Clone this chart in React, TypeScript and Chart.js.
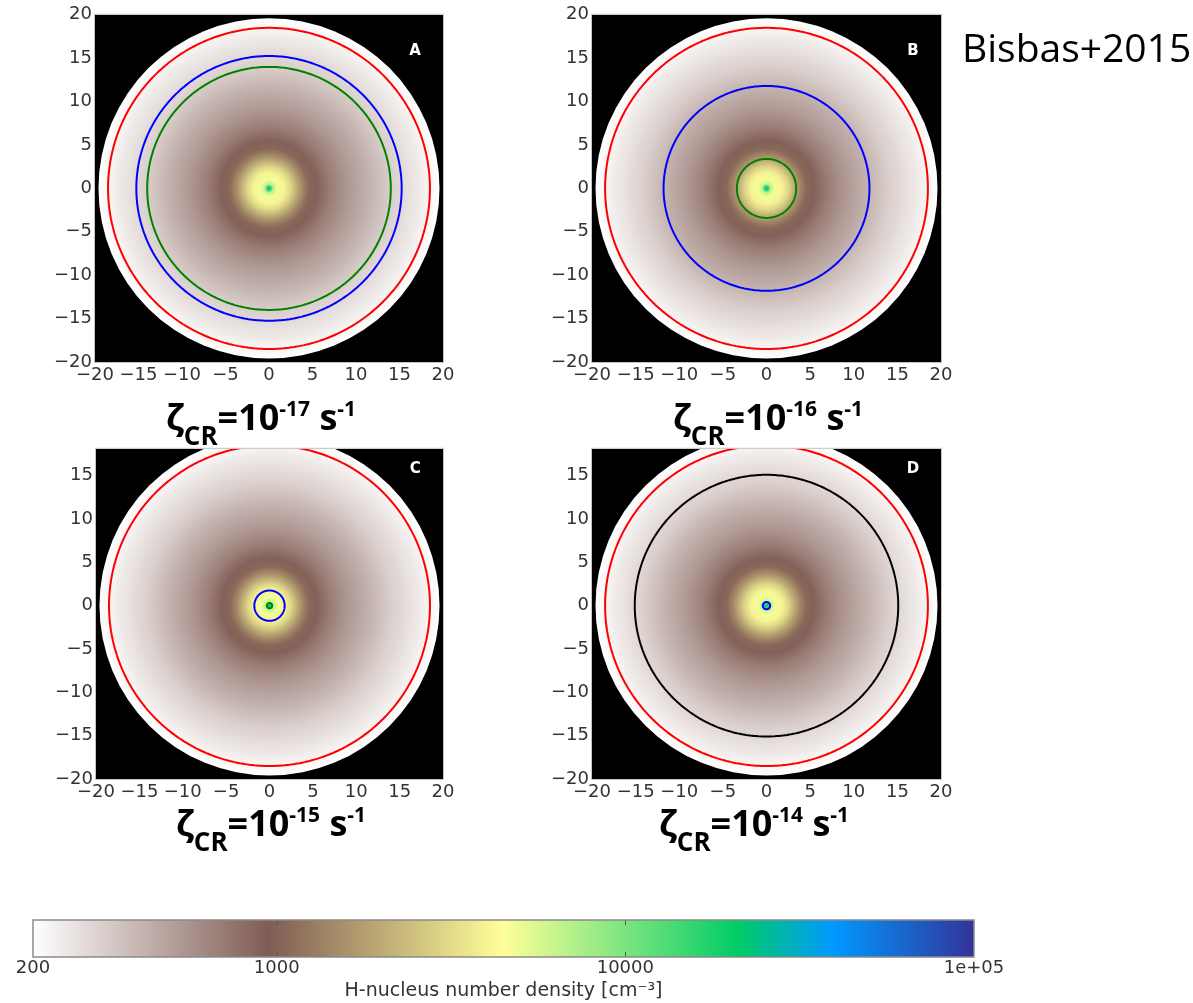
import React, { useEffect, useRef } from 'react';
import { Chart, registerables } from 'chart.js';
Chart.register(...registerables);

// ---------- data ----------
const xTicks = [-20, -15, -10, -5, 0, 5, 10, 15, 20];
const yTicksFull = [-20, -15, -10, -5, 0, 5, 10, 15, 20];
const yTicksCropped = [-20, -15, -10, -5, 0, 5, 10, 15];

// radial density profile of the cloud (pc, cm^-3)
const profileRadius = [0, 0.25, 0.5, 1.0, 1.8, 2.5, 3.2, 3.9, 4.6, 5.5, 7.0, 9.0, 11.5, 14, 17, 19.6];
const profileDensity = [30000, 15000, 6500, 4800, 4000, 3000, 2000, 1400, 1050, 900, 700, 540, 420, 320, 250, 200];
const cloudRadius = 19.6;

const panelLabels = ['A', 'B', 'C', 'D'];
const zetaExponents = ['-17', '-16', '-15', '-14'];
const panelYMax = [20, 20, 18.1, 18.1];
const redRadius = [18.5, 18.5, 18.5, 18.5];
const blueRadius = [15.25, 11.8, 1.75, 0.42];
const greenRadius = [14.0, 3.4, 0.3, null];
const blackRadius = [null, null, null, 15.1];

// colorbar
const densityMin = 200;
const densityMax = 100000;
const colorbarTicks = [200, 1000, 10000, 100000];
const colorbarTickLabels = ['200', '1000', '10000', '1e+05'];
const colorbarInnerTicks = [1000, 10000];
// terrain_r colormap
const cmapPos = [0, 0.25, 0.5, 0.75, 0.85, 1];
const cmapRGB = [
  [255, 255, 255],
  [128, 92, 84],
  [255, 255, 153],
  [0, 204, 102],
  [0, 153, 255],
  [51, 51, 153],
];

// ---------- layout ----------
const panelBoxes = [
  { left: 95, top: 13, right: 443, bottom: 362 },
  { left: 592, top: 13, right: 941, bottom: 362 },
  { left: 96, top: 447, right: 443, bottom: 779 },
  { left: 592, top: 447, right: 941, bottom: 779 },
];
const titlePos = [
  { cx: 261, base: 431 },
  { cx: 768, base: 431 },
  { cx: 271, base: 837 },
  { cx: 754, base: 837 },
];
const Y_AXIS_W = 60;
const PAD_TOP = 12;
const PAD_RIGHT = 22;
const X_AXIS_H = 30;

const tickFont = { family: 'DejaVu Sans', size: 18 };
const tickColor = '#333';

function lerp(a: number, b: number, t: number) {
  return a + (b - a) * t;
}
function cmapColor(t: number) {
  t = Math.max(0, Math.min(1, t));
  let i = 0;
  while (i < cmapPos.length - 2 && t > cmapPos[i + 1]) i++;
  const f = (t - cmapPos[i]) / (cmapPos[i + 1] - cmapPos[i]);
  const c = cmapRGB[i].map((v, k) => Math.round(lerp(v, cmapRGB[i + 1][k], f)));
  return `rgb(${c[0]},${c[1]},${c[2]})`;
}
function densityT(n: number) {
  return (Math.log10(n) - Math.log10(densityMin)) / (Math.log10(densityMax) - Math.log10(densityMin));
}
function fmtTick(v: number) {
  return v < 0 ? '\u2212' + Math.abs(v) : String(v);
}
function circle(r: number) {
  const pts: { x: number; y: number }[] = [];
  for (let i = 0; i <= 200; i++) {
    const a = (i / 200) * 2 * Math.PI;
    pts.push({ x: r * Math.cos(a), y: r * Math.sin(a) });
  }
  return pts;
}

const densityPlugin = {
  id: 'densityField',
  beforeDatasetsDraw(chart: any) {
    const { ctx, chartArea: a, scales } = chart;
    const x = scales.x, y = scales.y;
    ctx.save();
    ctx.beginPath();
    ctx.rect(a.left, a.top, a.right - a.left, a.bottom - a.top);
    ctx.clip();
    ctx.fillStyle = '#000';
    ctx.fillRect(a.left, a.top, a.right - a.left, a.bottom - a.top);
    const cx = x.getPixelForValue(0);
    const cy = y.getPixelForValue(0);
    const sx = x.getPixelForValue(1) - cx;
    const sy = cy - y.getPixelForValue(1);
    ctx.translate(cx, cy);
    ctx.scale(sx, sy);
    const g = ctx.createRadialGradient(0, 0, 0, 0, 0, cloudRadius);
    profileRadius.forEach((r, i) => g.addColorStop(r / cloudRadius, cmapColor(densityT(profileDensity[i]))));
    ctx.fillStyle = g;
    ctx.beginPath();
    ctx.arc(0, 0, cloudRadius, 0, Math.PI * 2);
    ctx.fill();
    ctx.restore();
  },
  afterDraw(chart: any) {
    const { ctx, chartArea: a, scales } = chart;
    const label = chart.options.plugins.densityField.label;
    ctx.save();
    ctx.fillStyle = '#fff';
    ctx.font = 'bold 15px "DejaVu Sans"';
    ctx.textAlign = 'center';
    ctx.textBaseline = 'middle';
    ctx.fillText(label, scales.x.getPixelForValue(16.8), scales.y.getPixelForValue(15.8));
    ctx.strokeStyle = '#c4c4c4';
    ctx.lineWidth = 1;
    ctx.strokeRect(a.left - 0.5, a.top - 0.5, a.right - a.left + 1, a.bottom - a.top + 1);
    ctx.restore();
  },
};

function Panel({ idx }: { idx: number }) {
  const ref = useRef<HTMLCanvasElement>(null);
  const box = panelBoxes[idx];
  const w = box.right - box.left + Y_AXIS_W + PAD_RIGHT;
  const h = box.bottom - box.top + PAD_TOP + X_AXIS_H;
  useEffect(() => {
    const contours: any[] = [];
    const add = (r: number | null, color: string) => {
      if (r == null) return;
      contours.push({
        data: circle(r),
        showLine: true,
        borderColor: color,
        borderWidth: 2,
        pointRadius: 0,
        tension: 0.05,
        fill: false,
      });
    };
    add(redRadius[idx], '#ff0000');
    add(blackRadius[idx], '#000000');
    add(blueRadius[idx], '#0000ff');
    add(greenRadius[idx], '#008000');
    const yTicks = panelYMax[idx] >= 20 ? yTicksFull : yTicksCropped;
    const chart = new Chart(ref.current as HTMLCanvasElement, {
      type: 'scatter',
      data: { datasets: contours },
      options: {
        animation: false,
        responsive: false,
        maintainAspectRatio: false,
        events: [],
        elements: { line: { capBezierPoints: false } },
        layout: { padding: { top: PAD_TOP, right: PAD_RIGHT, left: 0, bottom: 0 } },
        plugins: {
          legend: { display: false },
          tooltip: { enabled: false },
          densityField: { label: panelLabels[idx] },
        } as any,
        scales: {
          x: {
            type: 'linear',
            min: -20,
            max: 20,
            afterBuildTicks: (s: any) => {
              s.ticks = xTicks.map((v) => ({ value: v }));
            },
            afterFit: (s: any) => {
              s.height = X_AXIS_H;
            },
            grid: { display: false, drawTicks: false },
            border: { display: false },
            ticks: { padding: 3, font: tickFont, color: tickColor, autoSkip: false, maxRotation: 0, callback: (v: any) => fmtTick(Number(v)) },
          },
          y: {
            type: 'linear',
            min: -20,
            max: panelYMax[idx],
            afterBuildTicks: (s: any) => {
              s.ticks = yTicks.map((v) => ({ value: v }));
            },
            afterFit: (s: any) => {
              s.width = Y_AXIS_W;
            },
            grid: { display: false, drawTicks: false },
            border: { display: false },
            ticks: { padding: 3, font: tickFont, color: tickColor, autoSkip: false, callback: (v: any) => fmtTick(Number(v)) },
          },
        },
      },
      plugins: [densityPlugin],
    });
    return () => chart.destroy();
  }, []);
  return (
    <canvas
      ref={ref}
      width={w}
      height={h}
      style={{ position: 'absolute', left: box.left - Y_AXIS_W, top: box.top - PAD_TOP, width: w, height: h }}
    />
  );
}

const colorbarPlugin = {
  id: 'colorbarFill',
  beforeDatasetsDraw(chart: any) {
    const { ctx, chartArea: a, scales } = chart;
    const x = scales.x;
    const g = ctx.createLinearGradient(a.left, 0, a.right, 0);
    const lo = Math.log10(densityMin), hi = Math.log10(densityMax);
    cmapPos.forEach((t, i) => {
      const px = x.getPixelForValue(Math.pow(10, lo + t * (hi - lo)));
      const c = cmapRGB[i];
      g.addColorStop(Math.max(0, Math.min(1, (px - a.left) / (a.right - a.left))), `rgb(${c[0]},${c[1]},${c[2]})`);
    });
    ctx.save();
    ctx.fillStyle = g;
    ctx.fillRect(a.left, a.top, a.right - a.left, a.bottom - a.top);
    ctx.strokeStyle = '#555';
    ctx.lineWidth = 1;
    colorbarInnerTicks.forEach((v) => {
      const px = Math.round(x.getPixelForValue(v)) + 0.5;
      ctx.beginPath();
      ctx.moveTo(px, a.top);
      ctx.lineTo(px, a.top + 5);
      ctx.moveTo(px, a.bottom);
      ctx.lineTo(px, a.bottom - 5);
      ctx.stroke();
    });
    ctx.strokeStyle = '#8a8a8a';
    ctx.lineWidth = 1.5;
    ctx.strokeRect(a.left, a.top, a.right - a.left, a.bottom - a.top);
    ctx.restore();
  },
};

const CB = { left: 33, right: 974, top: 920, bottom: 957 };
const CB_PAD_L = 20, CB_PAD_R = 34, CB_PAD_T = 5, CB_AXIS_H = 45;

function Colorbar() {
  const ref = useRef<HTMLCanvasElement>(null);
  const w = CB.right - CB.left + CB_PAD_L + CB_PAD_R;
  const h = CB.bottom - CB.top + CB_PAD_T + CB_AXIS_H;
  useEffect(() => {
    const chart = new Chart(ref.current as HTMLCanvasElement, {
      type: 'scatter',
      data: { datasets: [] },
      options: {
        animation: false,
        responsive: false,
        maintainAspectRatio: false,
        events: [],
        layout: { padding: { top: CB_PAD_T, left: CB_PAD_L, right: CB_PAD_R, bottom: 0 } },
        plugins: { legend: { display: false }, tooltip: { enabled: false } },
        scales: {
          x: {
            type: 'logarithmic',
            min: densityMin,
            max: densityMax,
            afterBuildTicks: (s: any) => {
              s.ticks = colorbarTicks.map((v) => ({ value: v }));
            },
            afterFit: (s: any) => {
              s.height = CB_AXIS_H;
            },
            grid: { display: false, drawTicks: false },
            border: { display: false },
            ticks: {
              padding: 1,
              font: tickFont,
              color: tickColor,
              autoSkip: false,
              maxRotation: 0,
              callback: (v: any) => {
                const i = colorbarTicks.indexOf(Number(v));
                return i >= 0 ? colorbarTickLabels[i] : '';
              },
            },
            title: {
              display: true,
              text: 'H-nucleus number density [cm\u207B\u00B3]',
              font: { family: 'DejaVu Sans', size: 19 },
              color: '#333',
              padding: { top: 0, bottom: 0 },
            },
          },
          y: { display: false, min: 0, max: 1 },
        },
      },
      plugins: [colorbarPlugin],
    });
    return () => chart.destroy();
  }, []);
  return (
    <canvas
      ref={ref}
      width={w}
      height={h}
      style={{ position: 'absolute', left: CB.left - CB_PAD_L, top: CB.top - CB_PAD_T, width: w, height: h }}
    />
  );
}

function Title({ idx }: { idx: number }) {
  const p = titlePos[idx];
  const fs = 36;
  return (
    <div
      style={{
        position: 'absolute',
        left: p.cx - 160,
        width: 320,
        top: p.base - 32,
        textAlign: 'center',
        fontFamily: '"Open Sans", "Noto Sans", sans-serif',
        fontWeight: 700,
        fontSize: fs,
        lineHeight: `${fs}px`,
        whiteSpace: 'nowrap',
        color: '#000',
        zIndex: 2,
      }}
    >
      ζ
      <span style={{ fontSize: 26, verticalAlign: '-15px', lineHeight: 0 }}>CR</span>
      =10
      <span style={{ fontSize: 21, verticalAlign: '14px', lineHeight: 0 }}>{zetaExponents[idx]}</span>
      {' s'}
      <span style={{ fontSize: 21, verticalAlign: '14px', lineHeight: 0 }}>-1</span>
    </div>
  );
}

export default function App() {
  return (
    <div
      style={{
        position: 'absolute',
        left: 0,
        top: 0,
        width: 1193,
        height: 1003,
        overflow: 'hidden',
        background: '#fff',
      }}
    >
      {panelBoxes.map((_, i) => (
        <Panel key={'p' + i} idx={i} />
      ))}
      {panelBoxes.map((_, i) => (
        <Title key={'t' + i} idx={i} />
      ))}
      <div
        style={{
          position: 'absolute',
          left: 962,
          top: 27,
          fontFamily: '"Open Sans", "Noto Sans", sans-serif',
          fontSize: 39,
          lineHeight: '39px',
          color: '#000',
          whiteSpace: 'nowrap',
        }}
      >
        Bisbas+2015
      </div>
      <Colorbar />
    </div>
  );
}
